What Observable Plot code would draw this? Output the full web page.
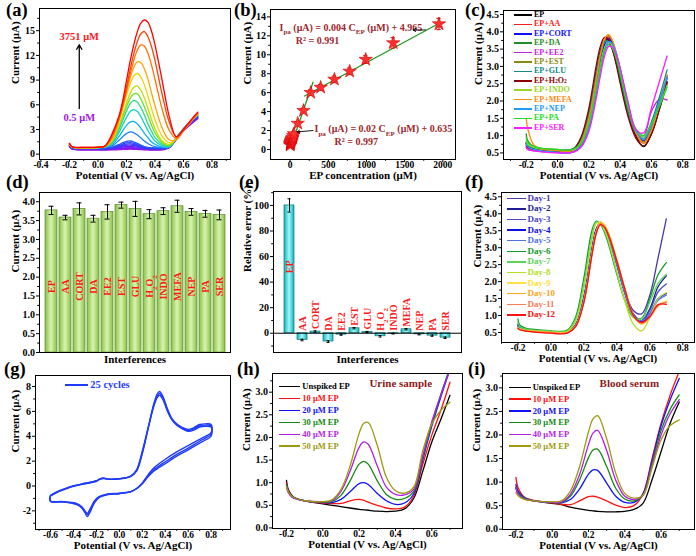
<!DOCTYPE html>
<html><head><meta charset="utf-8">
<script src="https://cdn.jsdelivr.net/npm/d3@7"></script>
<script src="https://cdn.jsdelivr.net/npm/@observablehq/plot@0.6"></script>
<style>
html,body{margin:0;padding:0;background:#fff;}
#fig{position:relative;width:696px;height:556px;overflow:hidden;background:#fff;font-family:"Liberation Serif","Times New Roman",serif;font-weight:bold;color:#000;}
.plab{position:absolute;font-size:18.5px;line-height:17px;font-weight:bold;}
.lg{position:absolute;height:14px;display:flex;align-items:center;white-space:nowrap;font-weight:bold;line-height:1;}
.lg .ln{display:inline-block;height:1.6px;margin-right:2px;flex:none;}
.lg sub{font-size:70%;vertical-align:-0.25em;line-height:0;}
</style></head>
<body>
<svg width="0" height="0" style="position:absolute">
<defs>
<linearGradient id="gG" x1="0" x2="1" y1="0" y2="0"><stop offset="0" stop-color="#86bf48"/><stop offset="0.5" stop-color="#daf4ae"/><stop offset="1" stop-color="#86bf48"/></linearGradient>
<linearGradient id="gC" x1="0" x2="1" y1="0" y2="0"><stop offset="0" stop-color="#0cb4bc"/><stop offset="0.5" stop-color="#a6f6f6"/><stop offset="1" stop-color="#0cb4bc"/></linearGradient>
</defs></svg>
<div id="fig"></div>
<script>
// ---------------- DATA ----------------
// (a) DPV at increasing EP concentration
const aX = [-0.2,-0.18,-0.1,0,0.05,0.1,0.15,0.175,0.2,0.225,0.25,0.275,0.3,0.325,0.35,0.375,0.4,0.45,0.5,0.55,0.6,0.65,0.7];
const aCurves = [
 [0.9,0.6,0.5,0.5,0.5,0.51,0.55,0.58,0.59,0.6,0.59,0.57,0.54,0.52,0.51,0.5,0.5,0.52,0.75,1.8,2.8,3.6,4.3],
 [0.95,0.65,0.55,0.55,0.55,0.57,0.63,0.66,0.69,0.7,0.68,0.65,0.61,0.58,0.56,0.56,0.55,0.57,0.8,1.8,2.85,3.65,4.35],
 [1.0,0.7,0.6,0.6,0.6,0.63,0.7,0.75,0.79,0.8,0.78,0.73,0.68,0.64,0.62,0.61,0.6,0.62,0.85,1.8,2.9,3.7,4.4],
 [1.02,0.72,0.62,0.62,0.62,0.66,0.79,0.87,0.93,0.95,0.91,0.84,0.76,0.69,0.65,0.63,0.62,0.64,0.87,1.85,2.9,3.75,4.45],
 [1.05,0.75,0.65,0.65,0.65,0.71,0.88,0.99,1.08,1.1,1.05,0.95,0.83,0.75,0.69,0.67,0.65,0.67,0.9,1.85,2.95,3.8,4.5],
 [1.08,0.78,0.68,0.68,0.68,0.76,0.97,1.11,1.22,1.25,1.18,1.05,0.91,0.8,0.73,0.7,0.68,0.7,0.92,1.9,3.0,3.85,4.55],
 [1.1,0.8,0.7,0.7,0.7,0.79,1.06,1.23,1.36,1.4,1.32,1.16,0.99,0.85,0.77,0.73,0.71,0.72,0.94,1.9,3.0,3.9,4.6],
 [1.15,0.85,0.75,0.75,0.77,0.86,1.18,1.39,1.55,1.6,1.5,1.31,1.1,0.93,0.83,0.78,0.76,0.76,0.95,1.9,3.05,3.95,4.65],
 [1.15,0.84,0.74,0.76,0.82,1.0,1.72,2.15,2.5,2.7,2.62,2.35,2.0,1.6,1.3,1.05,0.92,0.8,0.85,2.0,3.1,4.0,4.7],
 [1.16,0.84,0.74,0.77,0.86,1.15,2.2,2.85,3.5,3.9,3.97,3.7,3.2,2.55,2.0,1.5,1.2,0.88,0.85,2.0,3.1,4.0,4.75],
 [1.17,0.84,0.74,0.78,0.88,1.3,2.7,3.6,4.45,5.15,5.4,5.2,4.6,3.75,2.9,2.2,1.6,1.05,0.9,2.0,3.1,4.0,4.8],
 [1.18,0.84,0.75,0.79,0.9,1.45,3.1,4.15,5.25,6.1,6.5,6.35,5.7,4.8,3.7,2.8,2.0,1.2,0.95,1.95,3.05,4.0,4.85],
 [1.2,0.85,0.76,0.8,0.92,1.55,3.4,4.55,5.75,6.75,7.3,7.35,6.75,5.8,4.7,3.55,2.6,1.4,1.05,1.9,3.0,3.95,4.85],
 [1.22,0.85,0.77,0.81,0.93,1.65,3.65,4.9,6.2,7.35,8.1,8.3,7.8,6.85,5.6,4.25,3.1,1.6,1.2,1.85,2.95,3.9,4.85],
 [1.25,0.86,0.78,0.82,0.95,1.75,4.15,5.6,7.1,8.5,9.45,9.8,9.4,8.45,7.1,5.6,4.2,2.2,1.4,1.8,2.9,3.9,4.9],
 [1.27,0.87,0.8,0.83,0.96,1.85,4.25,5.8,7.55,9.2,10.5,11.2,11.15,10.4,9.15,7.5,5.9,3.2,1.75,1.75,2.85,3.9,4.95],
 [1.28,0.87,0.8,0.83,0.97,2.1,4.4,5.9,7.7,9.6,11.3,12.6,13.25,13.15,12.3,10.9,9.1,5.5,2.9,1.9,2.9,3.95,5.0],
 [1.3,0.88,0.82,0.84,0.98,2.3,4.6,6.2,8.1,10.2,12.1,13.6,14.6,14.9,14.3,13.1,11.4,7.3,3.9,2.1,3.0,4.0,5.0],
 [1.3,0.9,0.82,0.85,1.0,2.5,4.8,6.6,8.9,11.2,13.2,14.8,15.9,16.3,16.05,15.0,13.3,9.0,4.6,2.1,3.0,4.1,5.1]
];
const aColors = ["#9b10e8","#8a18ee","#7820f2","#6428f6","#5030fa","#3c38ff","#2c44ff","#2255ff","#1f80ff","#12b0ee","#10cfc8","#2ad88a","#6ee030","#bfe000","#f2d200","#ffa400","#ff7400","#ff4000","#ff0000"];

// (b) calibration
const bConc = [0.5,1,2.5,5,7.5,10,15,20,25,30,40,50,100,175,270,400,580,780,990,1350,1950];
const bCurrent = [0.45,0.55,0.62,0.7,0.78,0.85,0.95,1.05,1.15,1.25,1.45,1.65,2.75,4.1,6.0,6.55,7.4,8.25,9.5,11.25,13.25];
const bErr = [0.15,0.15,0.15,0.15,0.15,0.15,0.15,0.15,0.2,0.2,0.2,0.2,0.2,0.25,0.3,0.3,0.35,0.35,0.4,0.55,0.6];
const bFitLowX = [10,300], bFitLowY = [0.3,7.1];
const bFitHighX = [190,1960], bFitHighY = [5.65,13.35];

// (c) interference DPV
const cX = [-0.2,-0.19,-0.15,-0.1,0,0.05,0.1,0.15,0.2,0.25,0.275,0.3,0.325,0.35,0.375,0.4,0.45,0.5,0.55,0.6,0.65,0.7];
const cNames = ["EP","EP+AA","EP+CORT","EP+DA","EP+EE2","EP+EST","EP+GLU","EP+H<sub>2</sub>O<sub>2</sub>","EP+INDO","EP+MEFA","EP+NEP","EP+PA","EP+SER"];
const cColors = ["#000000","#ff1a1a","#1010ff","#1f8f2a","#c41ee6","#8a8a10","#108a8a","#8b0000","#9bd42a","#ff8a10","#1e9cff","#22dd22","#ff1aff"];
const cCurves = [
 [0.78,0.7,0.63,0.6,0.57,0.55,0.6,0.9,1.66,2.9,3.47,3.77,3.76,3.52,3.12,2.62,1.65,1.0,0.68,1.05,1.75,2.55],
 [0.75,0.68,0.62,0.6,0.57,0.55,0.58,0.81,1.47,2.69,3.31,3.72,3.85,3.69,3.34,2.86,1.84,1.05,0.78,1.2,1.9,2.7],
 [0.8,0.7,0.6,0.56,0.52,0.5,0.53,0.72,1.32,2.5,3.14,3.62,3.8,3.69,3.37,2.92,1.88,1.1,0.85,1.25,1.95,2.65],
 [1.05,0.85,0.68,0.63,0.6,0.58,0.62,0.88,1.56,2.77,3.34,3.69,3.73,3.54,3.18,2.7,1.74,1.1,0.9,1.3,1.9,2.5],
 [0.65,0.6,0.56,0.54,0.51,0.5,0.52,0.69,1.19,2.3,2.93,3.41,3.64,3.58,3.32,2.9,1.92,1.15,1.0,1.7,2.05,2.03],
 [0.72,0.66,0.6,0.58,0.56,0.55,0.58,0.82,1.49,2.72,3.35,3.77,3.9,3.74,3.38,2.9,1.86,1.1,0.82,1.2,1.95,2.75],
 [0.8,0.72,0.64,0.61,0.59,0.58,0.62,0.92,1.66,2.88,3.43,3.72,3.71,3.48,3.1,2.6,1.65,1.1,0.95,1.4,2.1,2.9],
 [0.7,0.65,0.6,0.58,0.55,0.53,0.58,0.95,1.79,3.09,3.6,3.84,3.78,3.5,3.05,2.52,1.56,0.93,0.7,1.05,1.75,2.55],
 [0.85,0.75,0.65,0.6,0.57,0.55,0.57,0.76,1.33,2.46,3.07,3.53,3.7,3.59,3.29,2.86,1.87,1.15,0.95,1.3,1.85,2.45],
 [1.5,1.2,0.72,0.62,0.57,0.55,0.58,0.82,1.49,2.73,3.36,3.79,3.92,3.76,3.4,2.91,1.86,1.1,0.78,1.15,1.9,2.75],
 [0.75,0.68,0.6,0.56,0.52,0.5,0.52,0.69,1.21,2.34,2.98,3.48,3.71,3.65,3.38,2.95,1.95,1.15,0.9,1.3,1.95,2.7],
 [0.95,0.8,0.68,0.63,0.6,0.58,0.6,0.78,1.34,2.43,3.01,3.46,3.62,3.52,3.23,2.81,1.85,1.2,1.0,1.35,1.85,2.4],
 [0.65,0.6,0.56,0.53,0.5,0.5,0.52,0.66,1.12,2.14,2.76,3.29,3.57,3.56,3.34,2.95,1.99,1.18,1.08,1.8,2.55,3.3]
];

// (d),(e) interference bars
const dNames = ["EP","AA","CORT","DA","EE2","EST","GLU","H2O2","INDO","MEFA","NEP","PA","SER"];
const dLabels = ["EP","AA","CORT","DA","EE2","EST","GLU","H_{2}O_{2}","INDO","MEFA","NEP","PA","SER"];
const dCurrent = [3.77,3.58,3.81,3.55,3.73,3.91,3.81,3.67,3.75,3.88,3.73,3.68,3.65];
const dErr = [0.11,0.06,0.16,0.09,0.19,0.08,0.2,0.12,0.09,0.16,0.09,0.09,0.13];
const eError = [100,-5.3,1.3,-6.5,-1.1,3.9,1.0,-2.4,-0.3,3.1,-0.9,-1.9,-3.5];
const eErr = [5.2,0.6,0.5,0.7,0.5,0.5,0.4,0.6,0.3,0.5,0.4,0.5,0.6];

// (f) stability
const fX = [-0.2,-0.19,-0.15,-0.1,0,0.05,0.1,0.15,0.2,0.25,0.275,0.3,0.325,0.35,0.4,0.45,0.5,0.55,0.6,0.65,0.7];
const fNames = ["Day-1","Day-2","Day-3","Day-4","Day-5","Day-6","Day-7","Day-8","Day-9","Day-10","Day-11","Day-12"];
const fColors = ["#4b36b0","#1c1c96","#4646c8","#1010e6","#4f72e6","#129a2c","#5ad45a","#b4e01e","#ffe040","#ffa424","#ff7a56","#ff1010"];
const fCurves = [
 [0.72,0.66,0.6,0.57,0.53,0.51,0.52,0.73,1.54,2.99,3.54,3.72,3.6,3.32,2.53,1.7,1.15,1.05,1.6,2.7,3.85],
 [0.75,0.67,0.6,0.57,0.53,0.51,0.52,0.73,1.54,2.99,3.55,3.75,3.62,3.33,2.52,1.66,1.05,0.85,1.2,1.85,2.17],
 [0.7,0.65,0.59,0.56,0.52,0.5,0.52,0.73,1.54,2.98,3.52,3.7,3.58,3.3,2.5,1.65,1.03,0.85,1.15,1.7,1.93],
 [0.7,0.64,0.58,0.55,0.51,0.5,0.51,0.72,1.53,2.98,3.53,3.71,3.59,3.31,2.5,1.64,1.0,0.82,1.05,1.5,1.65],
 [0.68,0.63,0.58,0.55,0.51,0.5,0.51,0.72,1.52,2.96,3.5,3.68,3.57,3.29,2.49,1.63,1.0,0.85,1.05,1.45,1.6],
 [0.9,0.72,0.62,0.59,0.55,0.53,0.57,0.96,2.11,3.53,3.78,3.69,3.45,3.09,2.21,1.42,0.95,0.92,1.5,2.2,2.56],
 [0.8,0.68,0.6,0.57,0.54,0.52,0.55,0.89,1.93,3.35,3.76,3.7,3.49,3.16,2.26,1.46,0.95,0.9,1.4,1.95,2.22],
 [0.65,0.62,0.57,0.55,0.52,0.5,0.53,0.83,1.8,3.25,3.72,3.72,3.53,3.2,2.3,1.4,0.75,0.55,0.95,1.5,1.68],
 [0.62,0.58,0.54,0.52,0.49,0.48,0.5,0.69,1.41,2.86,3.48,3.76,3.68,3.43,2.65,1.78,1.0,0.75,0.95,1.3,1.43],
 [0.63,0.59,0.55,0.53,0.5,0.48,0.5,0.69,1.41,2.85,3.46,3.73,3.65,3.4,2.63,1.77,1.0,0.75,0.95,1.28,1.4],
 [0.64,0.59,0.55,0.52,0.49,0.47,0.49,0.68,1.4,2.83,3.44,3.7,3.62,3.38,2.61,1.76,1.0,0.78,0.95,1.3,1.38],
 [0.62,0.58,0.54,0.51,0.48,0.46,0.48,0.67,1.39,2.82,3.42,3.68,3.6,3.36,2.6,1.75,1.0,0.8,0.97,1.32,1.33]
];

// (g) cyclic voltammetry, three of the 25 cycles
const gX = [-0.6,-0.55,-0.5,-0.45,-0.4,-0.3,-0.2,-0.17,-0.14,-0.1,0,0.1,0.15,0.2,0.25,0.3,0.33,0.35,0.38,0.42,0.46,0.5,0.55,0.6,0.65,0.7,0.75,0.8,
            0.8,0.75,0.7,0.6,0.5,0.4,0.3,0.25,0.2,0.15,0.1,0,-0.1,-0.18,-0.22,-0.25,-0.28,-0.3,-0.33,-0.37,-0.42,-0.5,-0.6,-0.6];
const gCycles = [
 [-0.8,-0.55,-0.35,-0.18,-0.02,0.18,0.38,0.55,0.65,0.55,0.58,0.78,1.2,2.6,4.6,6.6,7.4,7.6,7.2,6.2,5.4,5.0,4.7,4.55,4.7,4.95,5.0,4.95,
  4.3,4.0,3.75,3.25,2.75,2.15,1.45,0.9,0.25,-0.2,-0.45,-0.62,-0.68,-0.95,-1.4,-2.0,-2.45,-2.15,-1.75,-1.5,-1.38,-1.28,-1.25,-0.8],
 [-0.78,-0.52,-0.32,-0.15,0.0,0.2,0.4,0.55,0.62,0.55,0.58,0.8,1.25,2.7,4.6,6.5,7.25,7.45,7.05,6.1,5.35,4.95,4.65,4.45,4.6,4.85,4.9,4.85,
  4.15,3.85,3.6,3.05,2.55,1.95,1.3,0.8,0.2,-0.22,-0.45,-0.6,-0.66,-0.9,-1.3,-1.85,-2.3,-2.05,-1.7,-1.45,-1.35,-1.27,-1.22,-0.78],
 [-0.75,-0.5,-0.3,-0.13,0.02,0.22,0.42,0.56,0.6,0.55,0.58,0.8,1.3,2.8,4.65,6.4,7.1,7.3,6.95,6.0,5.3,4.9,4.6,4.4,4.5,4.75,4.8,4.75,
  4.0,3.7,3.45,2.9,2.4,1.8,1.2,0.75,0.18,-0.22,-0.45,-0.58,-0.64,-0.88,-1.25,-1.75,-2.2,-2.0,-1.65,-1.42,-1.32,-1.25,-1.2,-0.75]
];

// (h),(i) real samples
const hX = [-0.2,-0.19,-0.17,-0.15,-0.1,0,0.05,0.1,0.15,0.2,0.225,0.25,0.3,0.35,0.4,0.45,0.5,0.55,0.6,0.65,0.7];
const hNames = ["Unspiked EP","10 μM EP","20 μM EP","30 μM EP","40 μM EP","50 μM EP"];
const hColors = ["#000000","#ff1010","#1010ff","#138a13","#b21ee6","#a09a10"];
const hCurves = [
 [1.05,0.85,0.72,0.66,0.6,0.53,0.5,0.47,0.44,0.41,0.4,0.39,0.37,0.36,0.37,0.42,0.65,1.25,1.9,2.4,2.93],
 [1.0,0.82,0.7,0.65,0.6,0.55,0.54,0.54,0.6,0.63,0.61,0.57,0.5,0.44,0.42,0.46,0.7,1.4,2.05,2.6,3.22],
 [0.95,0.8,0.7,0.65,0.6,0.56,0.56,0.63,0.8,0.98,1.0,0.96,0.76,0.6,0.52,0.55,0.75,1.5,2.25,2.9,3.5],
 [0.95,0.8,0.7,0.65,0.6,0.57,0.58,0.72,1.04,1.41,1.47,1.41,1.04,0.74,0.63,0.65,0.8,1.55,2.3,2.95,3.55],
 [0.9,0.78,0.68,0.64,0.6,0.58,0.6,0.81,1.25,1.78,1.9,1.85,1.37,0.9,0.74,0.73,0.85,1.6,2.35,2.95,3.5],
 [0.92,0.8,0.7,0.65,0.6,0.58,0.62,0.85,1.37,2.09,2.31,2.33,1.82,1.12,0.82,0.77,0.9,1.7,2.3,2.6,2.78]
];
const iCurves = [
 [0.88,0.78,0.7,0.65,0.6,0.55,0.52,0.47,0.43,0.4,0.39,0.38,0.37,0.37,0.38,0.42,0.55,1.05,1.65,2.25,2.7],
 [1.1,0.9,0.75,0.67,0.61,0.56,0.53,0.52,0.6,0.69,0.7,0.68,0.6,0.51,0.46,0.5,0.75,1.5,2.25,2.85,3.35],
 [0.95,0.82,0.72,0.66,0.6,0.57,0.56,0.63,0.85,1.17,1.26,1.25,0.98,0.7,0.57,0.57,0.75,1.45,2.2,2.75,3.2],
 [0.9,0.78,0.7,0.65,0.6,0.57,0.57,0.7,1.04,1.52,1.68,1.7,1.33,0.87,0.64,0.6,0.72,1.4,2.1,2.55,2.85],
 [0.88,0.76,0.68,0.64,0.6,0.57,0.58,0.74,1.15,1.8,2.04,2.1,1.67,1.04,0.7,0.63,0.72,1.35,2.0,2.45,2.75],
 [0.78,0.72,0.66,0.63,0.6,0.58,0.6,0.81,1.32,2.07,2.34,2.41,1.92,1.19,0.76,0.66,0.72,1.3,1.9,2.2,2.32]
];

// ---------------- HELPERS ----------------
const fig = document.getElementById("fig");
const baseStyle = {fontFamily: "'Liberation Serif','Times New Roman',serif", fontSize: "10px", fontWeight: "bold", background: "transparent", overflow: "visible", color: "#000"};
const f1 = d => d.toFixed(1);
const f0 = d => String(d);

function fixSub(svg) {
  svg.querySelectorAll("text").forEach(t => {
    const s = t.textContent;
    if (s.includes("_{")) t.innerHTML = s.replace(/_\{([^}]*)\}/g, '<tspan baseline-shift="sub" font-size="70%">$1</tspan>');
  });
}
function panel(o) {
  const svg = Plot.plot({
    width: o.w ?? 232, height: o.h ?? 185,
    marginLeft: o.ml, marginRight: o.mr, marginTop: o.mt, marginBottom: o.mb,
    x: o.x, y: o.y, style: baseStyle, marks: o.marks
  });
  fixSub(svg);
  svg.style.position = "absolute"; svg.style.left = o.left + "px"; svg.style.top = o.top + "px";
  fig.appendChild(svg);
}
function axes(o) {
  const m = [];
  if (o.xt) m.push(Plot.axisX({ticks: o.xt, tickSize: 3, tickPadding: -1, tickFormat: o.xf, label: null, fontSize: 9.5}));
  if (o.xm) m.push(Plot.axisX({ticks: o.xm, tickSize: 1.8, tickFormat: () => "", label: null}));
  if (o.yt) m.push(Plot.axisY({ticks: o.yt, tickSize: 3, tickPadding: 1.5, tickFormat: o.yf, label: null}));
  if (o.ym) m.push(Plot.axisY({ticks: o.ym, tickSize: 1.8, tickFormat: () => "", label: null}));
  m.push(Plot.text([o.xl], {text: d => d, frameAnchor: "bottom", dy: o.xdy, fontSize: 11}));
  m.push(Plot.text([o.yl], {text: d => d, frameAnchor: "left", rotate: -90, dx: o.ydx, fontSize: 11}));
  m.push(Plot.frame({stroke: "#000", strokeWidth: 1}));
  return m;
}
function curves(xs, list, colors, sw = 1.2, extra = {}) {
  return list.map((ys, k) => Plot.line(xs.map((x, j) => [x, ys[j]]), {stroke: colors[k], strokeWidth: sw, curve: "catmull-rom", ...extra}));
}
function legend(names, colors, x0, y0, step, lw, fs) {
  names.forEach((n, i) => {
    const d = document.createElement("div");
    d.className = "lg";
    d.style.left = x0 + "px"; d.style.top = (y0 + i * step - 7) + "px";
    d.style.fontSize = fs + "px"; d.style.color = colors[i];
    d.innerHTML = `<span class="ln" style="width:${lw}px;background:${colors[i]}"></span>${n}`;
    fig.appendChild(d);
  });
}
const tbl = (names, vals, errs) => names.map((n, i) => ({name: n, label: dLabels[i], v: vals[i], e: errs[i]}));

const POT = "Potential (V vs. Ag/AgCl)", CUR = "Current (μA)";
const xt02 = [-0.2,0,0.2,0.4,0.6,0.8], xm02 = [-0.3,-0.1,0.1,0.3,0.5,0.7];
const XDY = 19.5;

// (a)
panel({left: 0, top: 0, ml: 39, mr: 2, mt: 8, mb: 26,
  x: {domain: [-0.41, 0.93]}, y: {domain: [-0.65, 17.7]},
  marks: [
    ...curves(aX, aCurves, aColors, 1.3),
    Plot.arrow([0], {x1: -0.131, y1: 5.55, x2: -0.131, y2: 13.3, stroke: "#000", strokeWidth: 1.3, headLength: 6}),
    Plot.text(["3751 μM"], {text: d => d, x: -0.131, y: 14.25, fill: "#ff1a1a", fontSize: 10.5}),
    Plot.text(["0.5 μM"], {text: d => d, x: -0.131, y: 4.45, fill: "#a020e8", fontSize: 10.5}),
    ...axes({xt: [-0.4,-0.2,0,0.2,0.4,0.6,0.8], xm: [-0.3,-0.1,0.1,0.3,0.5,0.7,0.9], xf: f1,
             yt: [0,3,6,9,12,15], ym: [1.5,4.5,7.5,10.5,13.5,16.5], yf: f0,
             xl: POT, yl: CUR, xdy: XDY, ydx: -24.3})
  ]});

// (b)
const bTbl = bConc.map((c, i) => ({c, v: bCurrent[i], e: bErr[i]}));
panel({left: 232, top: 0, ml: 38, mr: 9, mt: 9, mb: 26,
  x: {domain: [-257, 2166]}, y: {domain: [-1.06, 14.78]},
  marks: [
    Plot.line(bFitLowX.map((x, i) => [x, bFitLowY[i]]), {stroke: "#1f9a1f", strokeWidth: 1.3}),
    Plot.line(bFitHighX.map((x, i) => [x, bFitHighY[i]]), {stroke: "#1f9a1f", strokeWidth: 1.3}),
    Plot.ruleX(bTbl, {x: "c", y1: d => d.v - d.e, y2: d => d.v + d.e, stroke: "#e00000", strokeWidth: 1}),
    Plot.ruleY(bTbl, {y: d => d.v + d.e, x1: d => d.c - 28, x2: d => d.c + 28, stroke: "#e00000", strokeWidth: 1}),
    Plot.ruleY(bTbl, {y: d => d.v - d.e, x1: d => d.c - 28, x2: d => d.c + 28, stroke: "#e00000", strokeWidth: 1}),
    Plot.dot(bTbl, {x: "c", y: "v", symbol: "star", r: 4.2, fill: "#ff3030", stroke: "#d00000", strokeWidth: 0.6}),
    Plot.text(["I_{pa} (μA) = 0.004 C_{EP} (μM) + 4.965"], {text: d => d, x: -139, y: 12.9, textAnchor: "start", fill: "#a0282d", fontSize: 10}),
    Plot.text(["R² = 0.991"], {text: d => d, x: 75, y: 11.5, textAnchor: "start", fill: "#a0282d", fontSize: 10}),
    Plot.text(["I_{pa} (μA) = 0.02 C_{EP} (μM) + 0.635"], {text: d => d, x: 320, y: 2.2, textAnchor: "start", fill: "#a0282d", fontSize: 10}),
    Plot.text(["R² = 0.997"], {text: d => d, x: 582, y: 0.8, textAnchor: "start", fill: "#a0282d", fontSize: 10}),
    Plot.arrow([0], {x1: 1775, y1: 12.62, x2: 1610, y2: 12.62, stroke: "#000", strokeWidth: 0.9, headLength: 5}),
    Plot.arrow([0], {x1: 300, y1: 2.0, x2: 90, y2: 1.85, stroke: "#000", strokeWidth: 0.9, headLength: 5}),
    ...axes({xt: [0,500,1000,1500,2000], xm: [250,750,1250,1750], xf: f0,
             yt: [0,2,4,6,8,10,12,14], ym: [1,3,5,7,9,11,13], yf: f0,
             xl: "EP concentration (μM)", yl: CUR, xdy: XDY, ydx: -22.7})
  ]});

// (c)
panel({left: 464, top: 0, ml: 39, mr: 2, mt: 10, mb: 26,
  x: {domain: [-0.345, 0.875]}, y: {domain: [0.31, 4.616]},
  marks: [
    ...curves(cX, cCurves, cColors, 1.3),
    ...axes({xt: xt02, xm: xm02, xf: f1, yt: [0.5,1,1.5,2,2.5,3,3.5,4,4.5], ym: [0.75,1.25,1.75,2.25,2.75,3.25,3.75,4.25], yf: f1,
             xl: POT, yl: CUR, xdy: XDY, ydx: -25})
  ]});

// (d)
const dTbl = tbl(dNames, dCurrent, dErr);
panel({left: 0, top: 185, ml: 39, mr: 2, mt: 7, mb: 18,
  x: {type: "band", domain: dNames, paddingInner: 0.17, paddingOuter: 0.4, axis: null}, y: {domain: [0, 4.245]},
  marks: [
    Plot.barY(dTbl, {x: "name", y: "v", fill: "url(#gG)", stroke: "#5c8f2a", strokeWidth: 0.7}),
    Plot.ruleX(dTbl, {x: "name", y1: d => d.v - d.e, y2: d => d.v + d.e, stroke: "#000", strokeWidth: 1}),
    Plot.tickY(dTbl, {x: "name", y: d => d.v + d.e, insetLeft: 3.5, insetRight: 3.5, stroke: "#000"}),
    Plot.tickY(dTbl, {x: "name", y: d => d.v - d.e, insetLeft: 3.5, insetRight: 3.5, stroke: "#000"}),
    Plot.text(dTbl, {x: "name", y: () => 1.75, text: "label", rotate: -90, fill: "#ff1a1a", fontSize: 10}),
    ...axes({yt: [0,0.5,1,1.5,2,2.5,3,3.5,4], ym: [0.25,0.75,1.25,1.75,2.25,2.75,3.25,3.75], yf: f1,
             xl: "Interferences", yl: CUR, xdy: 10.5, ydx: -24.3})
  ]});

// (e)
const eTbl = tbl(dNames, eError, eErr);
panel({left: 232, top: 185, ml: 41, mr: 3, mt: 6, mb: 18,
  x: {type: "band", domain: dNames, paddingInner: 0.22, paddingOuter: 0.33, axis: null}, y: {domain: [-15.08, 110.9]},
  marks: [
    Plot.barY(eTbl, {x: "name", y: "v", fill: "url(#gC)", stroke: "#0a7d80", strokeWidth: 0.7}),
    Plot.ruleY([0], {stroke: "#000", strokeWidth: 1}),
    Plot.ruleX(eTbl, {x: "name", y1: d => d.v - d.e, y2: d => d.v + d.e, stroke: "#000", strokeWidth: 1}),
    Plot.tickY(eTbl, {x: "name", y: d => d.v + d.e, insetLeft: 3.5, insetRight: 3.5, stroke: "#000"}),
    Plot.tickY(eTbl, {x: "name", y: d => d.v - d.e, insetLeft: 3.5, insetRight: 3.5, stroke: "#000"}),
    Plot.text(eTbl.slice(0, 1), {x: "name", y: () => 52, text: "label", rotate: -90, fill: "#ff1a1a", fontSize: 10}),
    Plot.text(eTbl.slice(1), {x: "name", y: d => Math.max(d.v, 0) + 2, text: "label", rotate: -90, textAnchor: "start", fill: "#ff1a1a", fontSize: 10}),
    ...axes({yt: [0,20,40,60,80,100], ym: [-10,10,30,50,70,90,110], yf: f0,
             xl: "Interferences", yl: "Relative error (%)", xdy: 10.5, ydx: -26})
  ]});

// (f)
panel({left: 464, top: 185, ml: 37, mr: 2, mt: 7, mb: 28,
  x: {domain: [-0.3, 0.871]}, y: {domain: [0.205, 4.627]},
  marks: [
    ...curves(fX, fCurves, fColors, 1.3),
    ...axes({xt: xt02, xm: xm02, xf: f1, yt: [0.5,1,1.5,2,2.5,3,3.5,4,4.5], ym: [0.75,1.25,1.75,2.25,2.75,3.25,3.75,4.25], yf: f1,
             xl: POT, yl: CUR, xdy: XDY, ydx: -24})
  ]});

// (g)
panel({left: 0, top: 370, h: 186, ml: 35, mr: 2, mt: 5, mb: 27,
  x: {domain: [-0.731, 0.969]}, y: {domain: [-3.5, 8.89]},
  marks: [
    ...gCycles.map(ys => Plot.line(gX.map((x, j) => [x, ys[j]]), {stroke: "#1f3cff", strokeWidth: 1.4, curve: "catmull-rom"})),
    ...axes({xt: [-0.6,-0.4,-0.2,0,0.2,0.4,0.6,0.8], xm: [-0.7,-0.5,-0.3,-0.1,0.1,0.3,0.5,0.7,0.9], xf: f1,
             yt: [-2,0,2,4,6,8], ym: [-3,-1,1,3,5,7], yf: f0,
             xl: POT, yl: CUR, xdy: XDY, ydx: -20})
  ]});

// (h)
const hxt = [-0.2,0,0.2,0.4,0.6], hxm = [-0.1,0.1,0.3,0.5,0.7];
const hyt = [0,0.5,1,1.5,2,2.5,3], hym = [0.25,0.75,1.25,1.75,2.25,2.75,3.25];
panel({left: 232, top: 370, h: 186, ml: 40, mr: 2, mt: 3, mb: 28,
  x: {domain: [-0.277, 0.769]}, y: {domain: [-0.013, 3.413]},
  marks: [
    ...curves(hX, hCurves, hColors, 1.3, {clip: true}),
    Plot.text(["Urine sample"], {text: d => d, x: 0.429, y: 3.2, fill: "#8b1a1a", fontSize: 11}),
    ...axes({xt: hxt, xm: hxm, xf: f1, yt: hyt, ym: hym, yf: f1, xl: POT, yl: CUR, xdy: XDY, ydx: -26})
  ]});

// (i)
panel({left: 464, top: 370, h: 186, ml: 38, mr: 2, mt: 3, mb: 27,
  x: {domain: [-0.274, 0.784]}, y: {domain: [-0.006, 3.305]},
  marks: [
    ...curves(hX, iCurves, hColors, 1.3, {clip: true}),
    Plot.text(["Blood serum"], {text: d => d, x: 0.425, y: 3.1, fill: "#8b1a1a", fontSize: 11}),
    ...axes({xt: hxt, xm: hxm, xf: f1, yt: hyt, ym: hym, yf: f1, xl: POT, yl: CUR, xdy: XDY, ydx: -25.6})
  ]});

// legends
legend(cNames, cColors, 514, 15, 9.4, 18, 8);
legend(fNames, fColors, 507, 198.3, 10.6, 18.5, 9);
legend(hNames, hColors, 278.7, 386.7, 11.9, 21.6, 8.5);
legend(hNames, hColors, 509, 387.3, 11.75, 21.7, 8.5);
legend(["25 cycles"], ["#1f3cff"], 65, 385, 0, 23.3, 10.5);

// panel letters
[["(a)",6,2],["(b)",234,2],["(c)",465,2],["(d)",6,174],["(e)",239,174],["(f)",465,173.5],["(g)",4,361],["(h)",237,361],["(i)",468,361]].forEach(([t, x, y]) => {
  const d = document.createElement("div");
  d.className = "plab"; d.textContent = t; d.style.left = x + "px"; d.style.top = y + "px";
  fig.appendChild(d);
});
</script>
</body></html>
